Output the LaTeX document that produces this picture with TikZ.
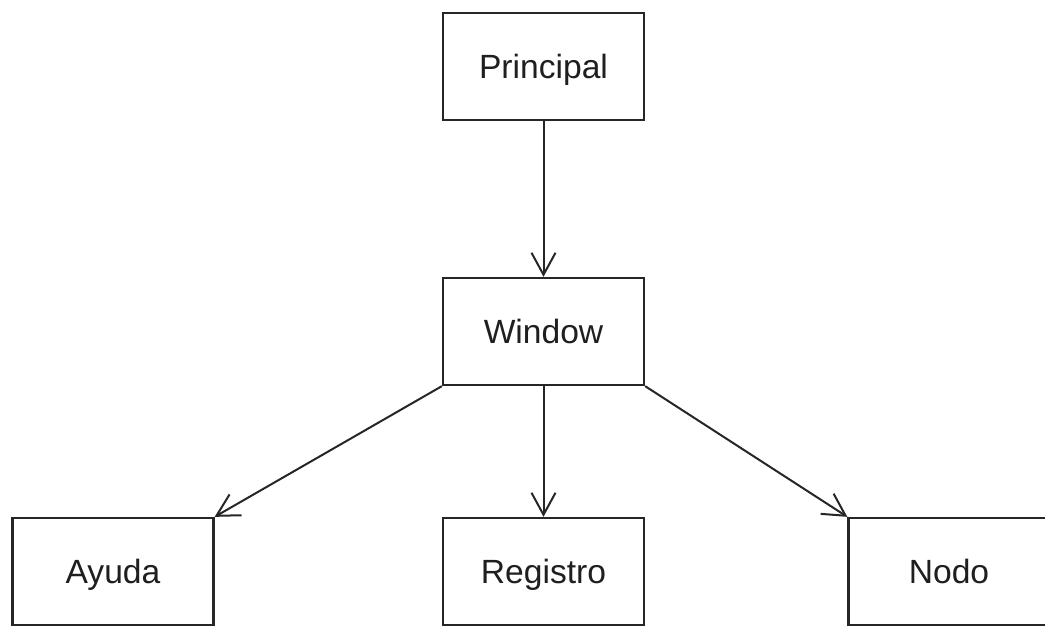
\documentclass[tikz,border=0pt]{standalone}
\usepackage{fontspec}
\setmainfont{Liberation Sans}
\usetikzlibrary{arrows.meta}
\begin{document}
\begin{tikzpicture}[x=1pt,y=-1pt,
  box/.style={draw=black!85, line width=2.3pt, fill=white, minimum width=201pt,
    minimum height=107pt, inner sep=0pt, font=\fontsize{33.6}{40}\selectfont,
    text height=24pt, text depth=0pt, text=black!88},
  link/.style={draw=black!85, line width=2pt,
    -{Straight Barb[length=22pt,width=24pt,line width=2pt]}}]
  \useasboundingbox (0,0) rectangle (1045,627);
  \begin{scope}
    \clip (0,0) rectangle (1045,627);
    \node[box] (principal) at (543.5,66.5) {Principal};
    \node[box] (window)    at (543.5,331.5) {Window};
    \node[box] (ayuda)     at (113,571.5) {Ayuda};
    \node[box] (registro)  at (543.5,571.5) {Registro};
    \node[box] (nodo)      at (949,571.5) {Nodo};
    \draw[link] (principal.south) -- (window.north);
    \draw[link] (window.south west) -- (ayuda.north east);
    \draw[link] (window.south) -- (registro.north);
    \draw[link] (window.south east) -- (nodo.north west);
  \end{scope}
\end{tikzpicture}
\end{document}
